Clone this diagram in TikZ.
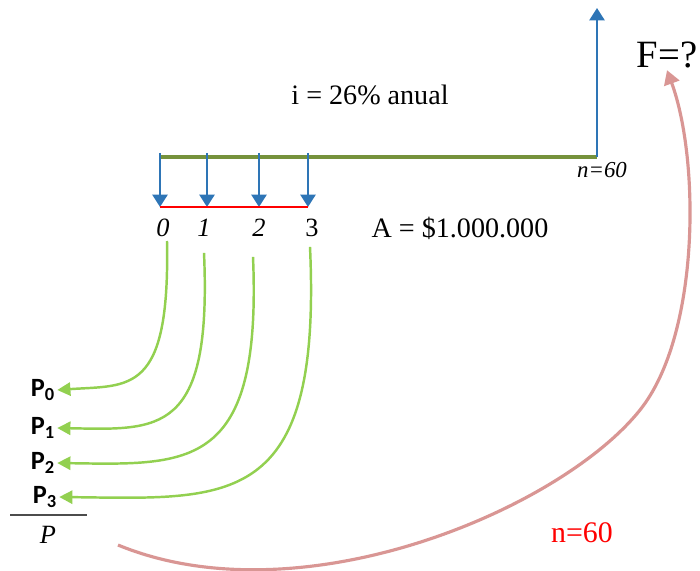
\documentclass[tikz,border=0pt]{standalone}
\usepackage{fontspec}
\setmainfont{Liberation Serif}
\newfontfamily\calfont{Carlito}
\usetikzlibrary{arrows.meta,calc}
\definecolor{flowblue}{RGB}{46,117,182}
\definecolor{olive}{RGB}{118,146,60}
\definecolor{leaf}{RGB}{146,208,80}
\definecolor{rose}{RGB}{217,150,148}

\begin{document}
\begin{tikzpicture}[x=0.02cm, y=-0.02cm,
  lab/.style={inner sep=1pt, font=\fontsize{16}{18}\selectfont},
  tick/.style={inner sep=1pt, font=\fontsize{15}{17}\selectfont},
  pv/.style={inner sep=1pt, font=\calfont\bfseries\fontsize{15}{17}\selectfont},
  cash/.style={-{Triangle[width=8.5pt,length=7pt]}, flowblue, line width=1.4pt},
  back/.style={-{Triangle[width=7.5pt,length=7.5pt]}, leaf, line width=1.4pt},
]
\useasboundingbox (0,0) rectangle (700,571);
% time line
\coordinate (s) at (160,157);
\coordinate (e) at (597,157);
\draw[olive, line width=2.7pt] (s) -- (e);
\draw[cash] (e) -- (597,8);
\foreach \x in {160,207,259,308}
  \draw[cash] (\x,153) -- (\x,207);
\draw[red, line width=1.7pt] (160,207) -- (308,207);
% labels
\node[lab] (rate) at (370,95) {i = 26\% anual};
\node[inner sep=1pt, font=\fontsize{22}{24}\selectfont] (fut) at (667,55) {F=?};
\node[inner sep=1pt, font=\itshape\fontsize{13}{15}\selectfont] (nend) at (602,170) {n=60};
\node[tick] (t0) at (163,228) {\itshape 0};
\node[tick] (t1) at (204,228) {\itshape 1};
\node[tick] (t2) at (259,228) {\itshape 2};
\node[tick] (t3) at (312,228) {3};
\node[lab] (ann) at (460,228) {A = \$1.000.000};
\node[pv] (p0) at (43,390) {P\textsubscript{0}};
\node[pv] (p1) at (43,428) {P\textsubscript{1}};
\node[pv] (p2) at (43,463) {P\textsubscript{2}};
\node[pv] (p3) at (45,497) {P\textsubscript{3}};
\coordinate (sl) at (10,515);
\coordinate (sr) at (87,515);
\draw[black!70, line width=0.9pt] (sl) -- (sr);
\node[inner sep=1pt, font=\itshape\fontsize{15}{17}\selectfont] (pt) at (48,535) {P};
\node[inner sep=1pt, text=red, font=\fontsize{17}{19}\selectfont] (nred) at (582,533) {n=60};
% discounting
\draw[back] ($(t0.south)+(4,2)$) .. controls (170,395) and (130,385) .. (p0.east);
\draw[back] ($(t1.south)+(0,14)$) .. controls (212,435) and (160,430) .. (p1.east);
\draw[back] ($(t2.south)+(-6,18)$) .. controls (262,470) and (190,465) .. (p2.east);
\draw[back] ($(t3.south)+(-2,8)$) .. controls (322,510) and (230,499) .. (p3.east);
% compounding
\coordinate (ps) at (118,545);
\coordinate (pm) at (640,410);
\draw[rose, line width=1.8pt, -{Triangle[width=9pt,length=8pt]}]
  (ps) .. controls (300,620) and (560,510) .. (pm)
       .. controls (700,335) and (700,160) .. (fut.south);
\end{tikzpicture}
\end{document}
